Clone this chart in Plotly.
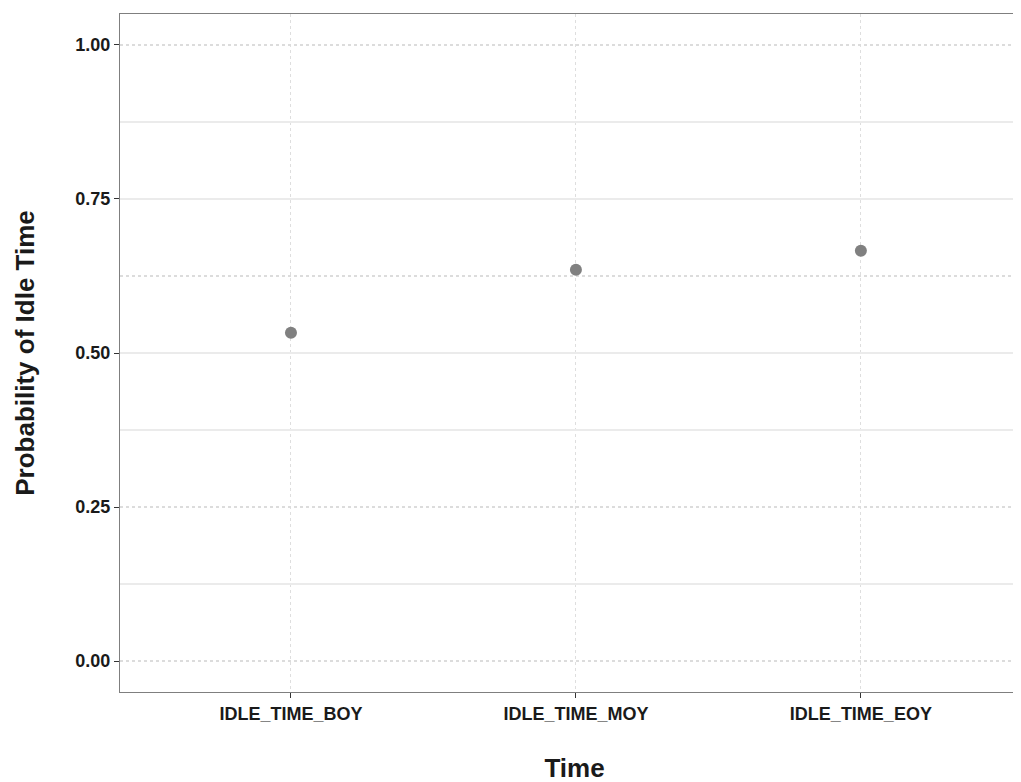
import plotly.graph_objects as go

categories = ["IDLE_TIME_BOY", "IDLE_TIME_MOY", "IDLE_TIME_EOY"]
probabilities = [0.533, 0.635, 0.666]
y_tick_vals = [0.0, 0.25, 0.5, 0.75, 1.0]
y_tick_text = ["0.00", "0.25", "0.50", "0.75", "1.00"]
solid_grid_vals = [0.125, 0.375, 0.5, 0.75, 0.875]
dotted_grid_vals = [0.0, 0.25, 0.625, 1.0]

FONT = "Liberation Sans, Arial, Helvetica, sans-serif"
TXT = "#1a1a1a"

fig = go.Figure()
# invisible traces carrying the grid axes
fig.add_trace(go.Scatter(x=categories, y=probabilities, mode="markers",
                         marker=dict(opacity=0), yaxis="y3", showlegend=False,
                         hoverinfo="skip"))
fig.add_trace(go.Scatter(x=categories, y=probabilities, mode="markers",
                         marker=dict(opacity=0), yaxis="y2", showlegend=False,
                         hoverinfo="skip"))
fig.add_trace(go.Scatter(
    x=categories, y=probabilities, mode="markers",
    marker=dict(color="#808080", size=12),
    showlegend=False, hoverinfo="x+y",
))

fig.update_layout(
    width=1021, height=782,
    margin=dict(l=112, r=0, t=6, b=98),
    paper_bgcolor="white", plot_bgcolor="white",
    font=dict(family=FONT, color=TXT),
    xaxis=dict(
        type="category", range=[-0.6, 2.59],
        showline=True, linecolor="#7f7f7f", linewidth=1, mirror=True,
        ticks="outside", ticklen=5, tickcolor="#333333", tickwidth=1,
        showgrid=True, gridcolor="#dedede", griddash="dot", gridwidth=1,
        tickfont=dict(family=FONT, size=18, color=TXT, weight="bold"),
        title=dict(text="<b>Time</b>", font=dict(family=FONT, size=26, color=TXT), standoff=36),
        zeroline=False,
    ),
    yaxis=dict(
        range=[-0.05, 1.05],
        tickvals=y_tick_vals, ticktext=y_tick_text,
        showline=True, linecolor="#7f7f7f", linewidth=1, mirror=False,
        ticks="outside", ticklen=5, tickcolor="#333333", tickwidth=1,
        showgrid=False,
        tickfont=dict(family=FONT, size=18, color=TXT, weight="bold"),
        title=dict(text="<b>Probability of Idle Time</b>", font=dict(family=FONT, size=26, color=TXT), standoff=33),
        zeroline=False,
    ),
    yaxis2=dict(
        overlaying="y", range=[-0.05, 1.05],
        tickvals=dotted_grid_vals, showticklabels=False, ticks="",
        showgrid=True, gridcolor="#dcdcdc", griddash="dot", gridwidth=1.5,
        zeroline=False, showline=False,
    ),
    yaxis3=dict(
        overlaying="y", range=[-0.05, 1.05],
        tickvals=solid_grid_vals, showticklabels=False, ticks="",
        showgrid=True, gridcolor="#ebebeb", gridwidth=1.5,
        zeroline=False, showline=False,
    ),
)

fig.write_html("out.html")
